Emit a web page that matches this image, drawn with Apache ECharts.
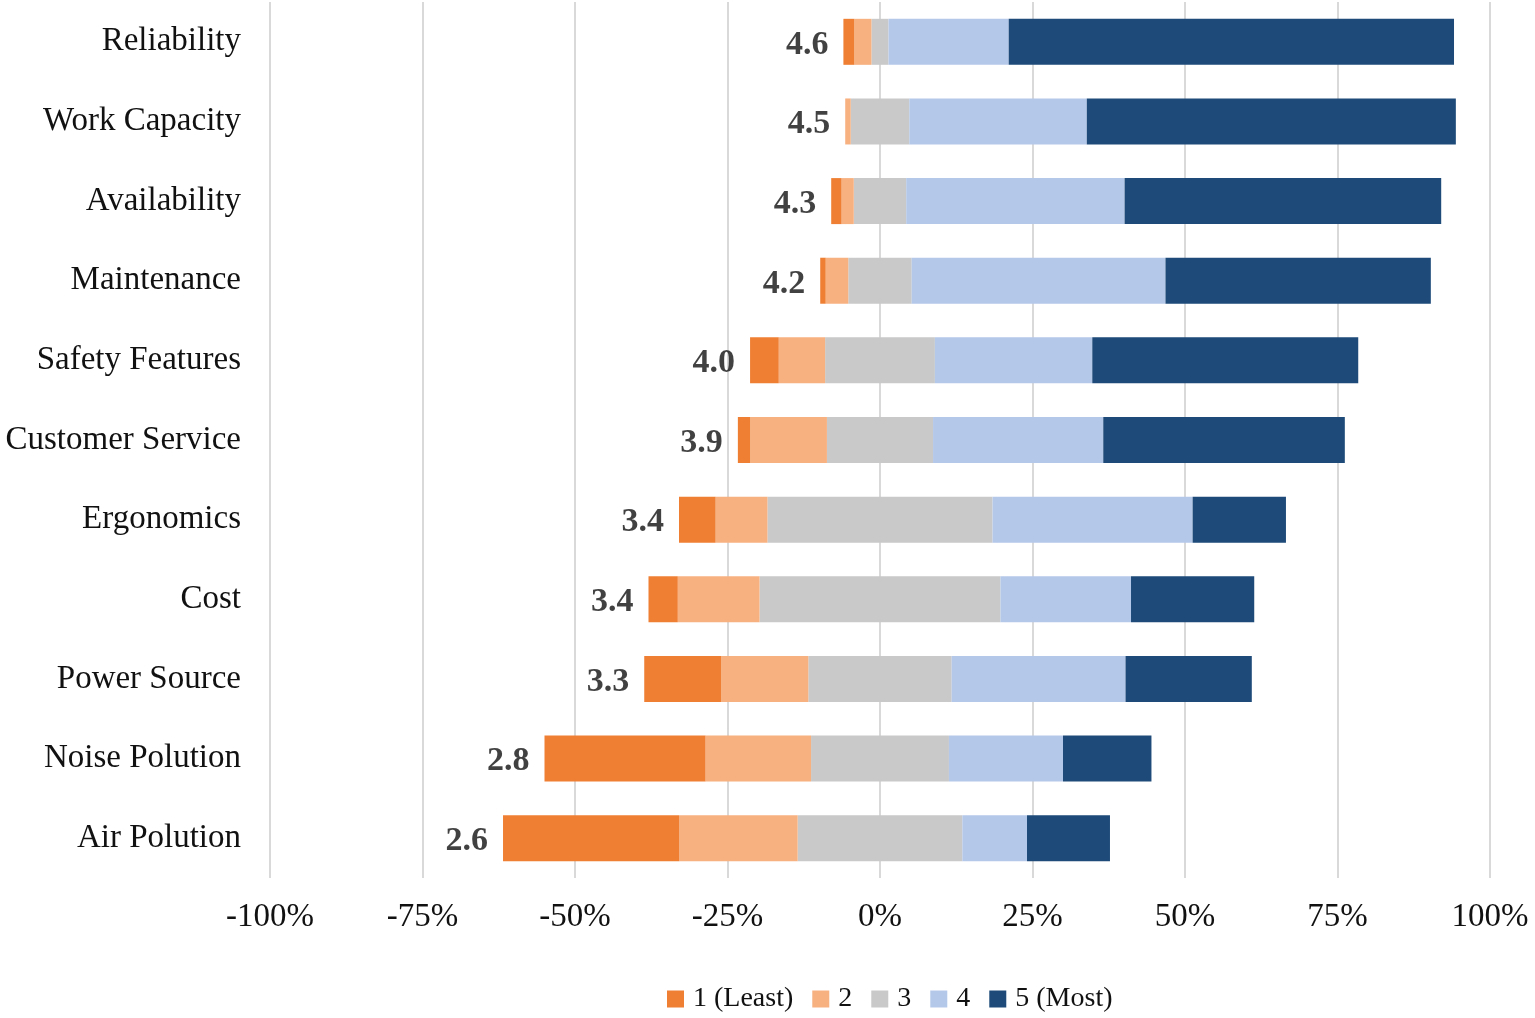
<!DOCTYPE html>
<html>
<head>
<meta charset="utf-8">
<title>Likert</title>
<script src="https://cdn.jsdelivr.net/npm/echarts@6.0.0/dist/echarts.min.js"></script>
<style>
    html, body {margin: 0; padding: 0; background: #fff;}
    #likert-chart {width: 1535px; height: 1018px;}
</style>
</head>
<body>
<div id="likert-chart"></div>
<script>
var categories = ['Reliability', 'Work Capacity', 'Availability', 'Maintenance', 'Safety Features',
    'Customer Service', 'Ergonomics', 'Cost', 'Power Source', 'Noise Polution', 'Air Polution'];
var meanScores = [4.6, 4.5, 4.3, 4.2, 4.0, 3.9, 3.4, 3.4, 3.3, 2.8, 2.6];
// percent of answers per rating
var least1 = [1.8, 0, 1.7, 0.9, 4.7, 2.0, 6.0, 4.8, 12.6, 26.4, 28.9];
var rate2 = [2.8, 0.9, 2.0, 3.7, 7.6, 12.6, 8.5, 13.4, 14.3, 17.3, 19.4];
var rate3 = [2.8, 9.6, 8.6, 10.4, 18.0, 17.4, 36.9, 39.5, 23.5, 22.6, 27.0];
var rate4 = [19.7, 29.1, 35.8, 41.6, 25.8, 27.9, 32.8, 21.4, 28.5, 18.7, 10.6];
var most5 = [73.0, 60.5, 51.9, 43.5, 43.6, 39.6, 15.3, 20.2, 20.7, 14.5, 13.6];
var legendNames = ['1 (Least)', '2', '3', '4', '5 (Most)'];
var xTicks = [-100, -75, -50, -25, 0, 25, 50, 75, 100];

window.onload = function () {
    var serif = 'Liberation Serif, Times New Roman, serif';

    // neutral answers are split in half across the zero line
    var half3neg = [], half3pos = [], neg2 = [], neg1 = [], meanPoints = [];
    for (var i = 0; i < categories.length; i++) {
        half3neg.push(-rate3[i] / 2);
        half3pos.push(rate3[i] / 2);
        neg2.push(-rate2[i]);
        neg1.push(-least1[i]);
        meanPoints.push([-(least1[i] + rate2[i] + rate3[i] / 2), i]);
    }

    function barSeries(name, data, color) {
        return {
            name: name,
            type: 'bar',
            stack: 'likert',
            barWidth: 46,
            data: data,
            itemStyle: {color: color},
            emphasis: {disabled: true}
        };
    }

    var likertChart = echarts.init(document.getElementById('likert-chart'));
    var likertOption = {
        animation: false,
        legend: {
            data: legendNames,
            left: 662,
            top: 980,
            icon: 'rect',
            itemWidth: 17,
            itemHeight: 17,
            itemGap: 19,
            textStyle: {
                fontFamily: serif,
                fontSize: 28,
                color: '#111',
                padding: [0, 0, 0, 4]
            }
        },
        grid: {
            left: 270,
            right: 45,
            top: 2,
            bottom: 140
        },
        xAxis: {
            type: 'value',
            min: xTicks[0],
            max: xTicks[xTicks.length - 1],
            interval: 25,
            axisLine: {show: false},
            axisTick: {show: false},
            axisLabel: {
                formatter: '{value}%',
                fontFamily: serif,
                fontSize: 33,
                color: '#111',
                margin: 23
            },
            splitLine: {
                lineStyle: {color: '#d9d9d9', width: 2}
            }
        },
        yAxis: {
            type: 'category',
            inverse: true,
            data: categories,
            axisLine: {show: false},
            axisTick: {show: false},
            axisLabel: {
                fontFamily: serif,
                fontSize: 33,
                color: '#111',
                margin: 29,
                padding: [5, 0, 0, 0]
            }
        },
        series: [
            barSeries('3', half3neg, '#C9C9C9'),
            barSeries('2', neg2, '#F7B07F'),
            barSeries('1 (Least)', neg1, '#EF7F33'),
            barSeries('3', half3pos, '#C9C9C9'),
            barSeries('4', rate4, '#B4C8E9'),
            barSeries('5 (Most)', most5, '#1D4A79'),
            {
                name: 'mean',
                type: 'scatter',
                data: meanPoints,
                symbolSize: 0,
                silent: true,
                label: {
                    show: true,
                    position: 'left',
                    distance: 15,
                    offset: [0, 3],
                    formatter: function (p) {
                        return meanScores[p.dataIndex].toFixed(1);
                    },
                    fontFamily: serif,
                    fontSize: 34,
                    fontWeight: 'bold',
                    color: '#111'
                }
            }
        ]
    };
    likertChart.setOption(likertOption);
};
</script>
</body>
</html>
